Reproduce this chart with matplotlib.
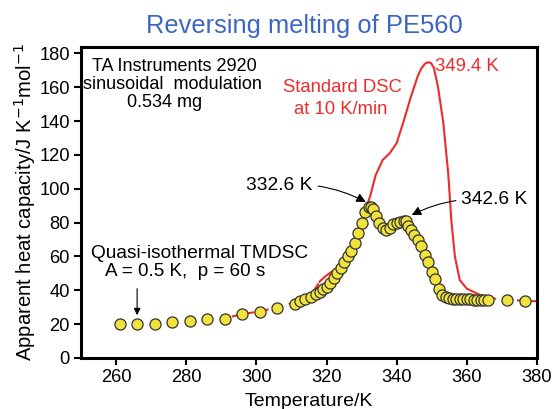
import matplotlib
matplotlib.use("Agg")
import matplotlib.pyplot as plt

plt.rcParams['font.family'] = ['Liberation Sans', 'DejaVu Sans']

# --- дані: квазіізотермічний TMDSC (точки) ---
tm_T = [261, 266, 271, 276, 281, 286, 291, 296, 301, 306, 311,
        312.5, 314, 315.5, 317, 318, 319, 320, 321, 322, 323, 324, 325,
        326, 327, 328, 329, 330, 331, 332, 332.6, 333.3, 334, 335, 336,
        337, 338, 339, 340, 341, 342, 342.6, 343.3, 344, 345, 346, 347,
        348, 349, 350, 351, 352, 353, 354, 355, 356, 357, 358, 359, 360,
        361, 362, 363, 364, 365, 366, 371.5, 376.5]
tm_cp = [20, 20, 20, 21, 22, 22.8, 23.3, 25.9, 27, 29.3, 32.2,
         33.8, 35, 36.2, 37.7, 39, 40.5, 42, 44.5, 47, 50, 53, 56.5,
         60, 63.5, 68, 74, 80, 86, 89, 89.5, 88, 84, 79.5, 77,
         75.6, 77, 79, 79.8, 80.3, 81, 81, 78, 75.6, 72.7, 70, 66,
         61, 57, 51, 46.5, 41, 37.5, 36, 35.3, 35, 35, 34.8, 34.8, 34.7,
         34.6, 34.5, 34.4, 34.3, 34.3, 34.2, 34, 33.5]

# --- стандартний DSC, 10 K/min ---
dsc_T_lo = [293, 296, 301, 306, 311, 314, 316.5, 318]
dsc_cp_lo = [24.5, 26, 27.5, 30, 33, 35.5, 40, 45]
dsc_T = [318, 319.5, 321, 323, 325, 327, 329, 330.5, 331.5, 332.5, 334,
         336, 338, 340, 342, 344, 346, 347, 348, 349, 349.8, 350.6, 351.8,
         353.3, 354.7, 355.6, 356.6, 358, 360, 363, 366]
dsc_cp = [45, 48, 50.3, 53, 58, 65, 75, 84, 90, 96, 108,
          117, 121, 127, 140, 154, 166.5, 171, 173.8, 174.8, 174.3, 171.5, 160,
          139, 109, 81, 60, 46, 41, 38, 35.5]
dsc_T_hi = [366, 372, 380]
dsc_cp_hi = [35.5, 34.3, 33.5]

xticks = [260, 280, 300, 320, 340, 360, 380]
yticks = [0, 20, 40, 60, 80, 100, 120, 140, 160, 180]

RED = '#ee2b2b'
YEL = '#f2e33c'
FS = 13.3

fig = plt.figure(figsize=(5.53, 4.09), dpi=100)
ax = fig.add_axes([0.1465, 0.1247, 0.8245, 0.7613])

ax.plot(dsc_T_lo, dsc_cp_lo, color=RED, lw=1.5, ls=(0, (4, 3)), zorder=2)
ax.plot(dsc_T, dsc_cp, color=RED, lw=1.5, zorder=2)
ax.plot(dsc_T_hi, dsc_cp_hi, color=RED, lw=1.5, ls=(0, (4, 3)), zorder=2)
ax.plot(tm_T, tm_cp, ls='none', marker='o', ms=8, mfc=YEL,
        mec='#333333', mew=0.9, zorder=3)

ax.set_xlim(250, 380)
ax.set_ylim(0, 184)
ax.set_xticks(xticks)
ax.set_yticks(yticks)
ax.tick_params(direction='out', length=5, width=1.5, labelsize=13.2, pad=3)
ax.tick_params(top=False, right=False)
for s in ax.spines.values():
    s.set_linewidth(2.2)

ax.set_xlabel('Temperature/K', fontsize=14, labelpad=5)
ax.set_ylabel('Apparent heat capacity/J K$^{-1}$mol$^{-1}$', fontsize=14.6, labelpad=1)

fig.text(0.551, 1 - 33 / 409, 'Reversing melting of PE560', color='#3d66c4',
         fontsize=18.4, ha='center', va='baseline')

# --- підписи ---
ax.text(276.5, 172, 'TA Instruments 2920', fontsize=13, ha='center', va='center')
ax.text(276.2, 161.6, 'sinusoidal  modulation', fontsize=13, ha='center', va='center')
ax.text(273.7, 151, '0.534 mg', fontsize=13, ha='center', va='center')
ax.text(324.5, 159.6, 'Standard DSC', fontsize=FS, color=RED, ha='center', va='center')
ax.text(324, 147, 'at 10 K/min', fontsize=FS, color=RED, ha='center', va='center')
ax.text(351, 172, '349.4 K', fontsize=FS, color=RED, ha='left', va='center')
ax.text(283.8, 62, 'Quasi-isothermal TMDSC', fontsize=13.8, ha='center', va='center')
ax.text(279.8, 51.4, 'A = 0.5 K,  p = 60 s', fontsize=13.6, ha='center', va='center')

ax.annotate('332.6 K', xy=(331.2, 92.2), xytext=(306.6, 102.2), fontsize=13.8,
            ha='center', va='center',
            arrowprops=dict(arrowstyle='-|>', color='black', lw=0.8,
                            connectionstyle='arc3,rad=-0.15', shrinkA=2, shrinkB=0))
ax.annotate('342.6 K', xy=(344.3, 84.5), xytext=(367.9, 93.4), fontsize=13.8,
            ha='center', va='center',
            arrowprops=dict(arrowstyle='-|>', color='black', lw=0.8,
                            connectionstyle='arc3,rad=0.15', shrinkA=2, shrinkB=0))
ax.annotate('', xy=(266, 25.3), xytext=(266, 41),
            arrowprops=dict(arrowstyle='-|>', color='black', lw=0.8, shrinkA=0, shrinkB=0))

fig.savefig('out.png', dpi=100)
